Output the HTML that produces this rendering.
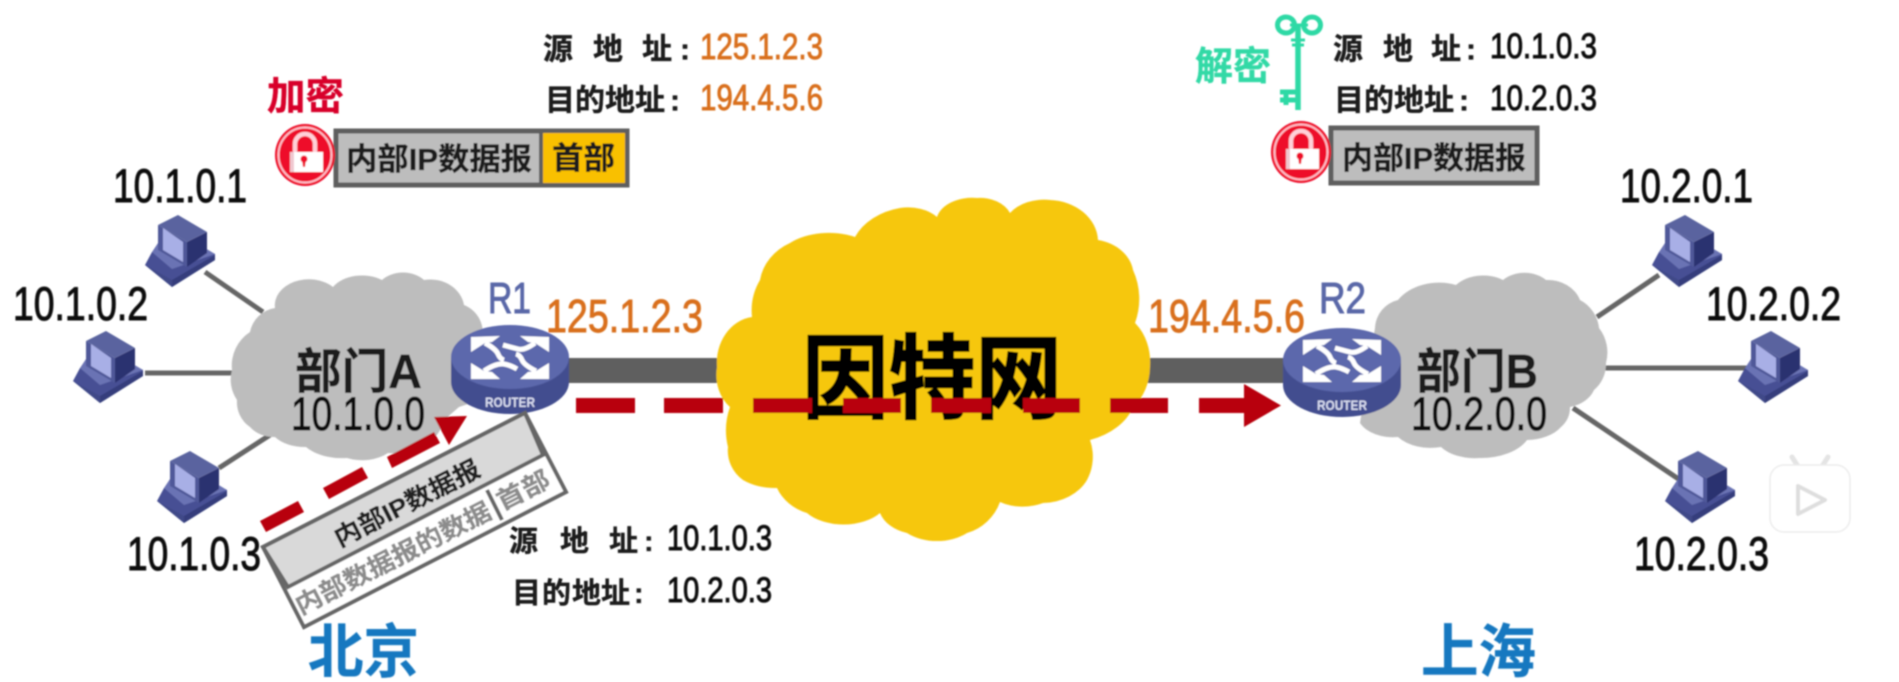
<!DOCTYPE html>
<html>
<head>
<meta charset="utf-8">
<style>
html,body{margin:0;padding:0;background:#fff;width:1899px;height:682px;overflow:hidden}
svg{display:block}
text{font-family:"Liberation Sans","Noto Sans CJK SC",sans-serif}
.n{fill:#111;stroke:#111;stroke-width:1}
.c{font-weight:700;fill:#1a1a1a;stroke:#1a1a1a;stroke-width:.35}
.o{fill:#d9701f;stroke:#d9701f;stroke-width:.9}
.r{fill:#5a68a8;stroke:#5a68a8;stroke-width:1}
</style>
</head>
<body>
<svg width="1899" height="682" viewBox="0 0 1899 682" xmlns="http://www.w3.org/2000/svg">
<defs>
<filter id="b" x="-2%" y="-2%" width="104%" height="104%"><feGaussianBlur stdDeviation="0.8"/></filter>
<g id="pc">
  <polygon points="0,48 27,70 70,43 70,37 60,33 7,35" fill="#474f94"/>
  <polygon points="7,35 27,52 70,37 60,31 43,38 13,26" fill="#6a73b4"/>
  <polygon points="0,48 27,63 27,70" fill="#3f4888"/>
  <polygon points="27,63 70,38 70,43 27,70" fill="#343c7c"/>
  <polygon points="13,8 33,-2 62,15 42,25" fill="#5a639f"/>
  <polygon points="13,8 42,25 42,50 13,33" fill="#4f5899"/>
  <polygon points="18,11 38,25 38,45 18,33" fill="#a8afe6"/>
  <polygon points="42,25 62,15 62,36 42,50" fill="#2c3270"/>
</g>
<g id="router">
  <path d="M-59,0 V25 A59,32 0 0 0 59,25 V0 Z" fill="#434e8f"/>
  <ellipse cx="0" cy="0" rx="59" ry="32" fill="#5b67ac"/>
  <g fill="#fff">
    <polygon points="-39,-20 -10,-21 -18,-15 -25,-14 -39,-5"/>
    <polygon points="39,-20 10,-21 18,-15 25,-14 39,-5"/>
    <polygon points="-39,22 -10,22 -18,15 -26,14 -39,6"/>
    <polygon points="39,22 10,22 18,15 26,14 39,6"/>
  </g>
  <g fill="none" stroke="#fff" stroke-width="5">
    <path d="M-25,-14 Q-14,-8 -12,-3 Q-10,2 -6,3"/>
    <path d="M25,-14 Q14,-6 8,-8 Q0,-10 -7,-12"/>
    <path d="M-26,14 Q-14,6 -6,7 Q0,8 7,12"/>
    <path d="M26,14 Q14,8 12,3 Q10,-2 6,-3"/>
  </g>
  <text x="-25" y="50" font-size="14" font-weight="700" fill="#d8dcf0" textLength="50" lengthAdjust="spacingAndGlyphs">ROUTER</text>
</g>
<g id="lock">
  <ellipse cx="0" cy="0" rx="30" ry="31" fill="#ee0a2a"/>
  <ellipse cx="0" cy="0" rx="26.500" ry="27.500" fill="none" stroke="#ffc0ca" stroke-width="2"/>
  <path d="M-10,-3 V-11 A10,10 0 0 1 10,-11 V-3" fill="none" stroke="#ffd0d8" stroke-width="4.500"/>
  <rect x="-15" y="-3" width="33" height="20" fill="#fff"/>
  <rect x="-15" y="-3" width="4" height="20" fill="#f0c8d0"/>
  <circle cx="-1" cy="4" r="3.500" fill="#ee0a2a"/>
  <polygon points="-3,5 1,5 0,12 -2,12" fill="#ee0a2a"/>
</g>
</defs>
<rect width="1899" height="682" fill="#fff"/>
<g filter="url(#b)">
  <!-- link lines -->
  <g stroke="#666" stroke-width="5" fill="none">
    <line x1="205" y1="272" x2="263" y2="312"/>
    <line x1="145" y1="373" x2="235" y2="373"/>
    <line x1="219" y1="468" x2="270" y2="435"/>
    <line x1="1659" y1="275" x2="1597" y2="317"/>
    <line x1="1600" y1="368" x2="1747" y2="368"/>
    <line x1="1573" y1="408" x2="1680" y2="480"/>
  </g>
  <rect x="560" y="358" width="180" height="25" fill="#5f5f5f"/>
  <rect x="1140" y="358" width="170" height="25" fill="#5f5f5f"/>

  <!-- gray clouds -->
  <path fill="#bdbdbd" d="M232 370 A40 40 0 0 1 250 332 A30 30 0 0 1 275 308 A34 26 0 0 1 333 287 A34 24 0 0 1 382 280 A28 22 0 0 1 424 280 A34 30 0 0 1 464 305 A30 30 0 0 1 482 340 L480 400 L459 407 L444 420 A50 40 0 0 1 388 453 A36 24 0 0 1 347 458 A44 26 0 0 1 306 447 A36 24 0 0 1 275 437 A30 26 0 0 1 250 427 A30 30 0 0 1 237 400 A36 36 0 0 1 232 370 Z"/>
  <path fill="#bdbdbd" d="M1375 328 A30 30 0 0 1 1398 300 A48 36 0 0 1 1456 285 A34 24 0 0 1 1503 280 A28 20 0 0 1 1546 280 A34 30 0 0 1 1580 300 A36 36 0 0 1 1599 328 A40 40 0 0 1 1606 363 A34 34 0 0 1 1594 390 A34 26 0 0 1 1570 407 A26 26 0 0 1 1561 427 A40 26 0 0 1 1527 440 A50 30 0 0 1 1480 458 A40 24 0 0 1 1441 447 A40 26 0 0 1 1398 437 A36 24 0 0 1 1360 423 Z"/>

  <!-- yellow cloud -->
  <path fill="#f6c70c" d="M717 367 A40 46 0 0 1 752 317 A60 60 0 0 1 760 280 A56 50 0 0 1 790 243 A56 36 0 0 1 855 237 A64 50 0 0 1 900 208 A36 24 0 0 1 937 217 A36 24 0 0 1 977 198 A32 24 0 0 1 1010 213 A40 28 0 0 1 1050 200 A50 42 0 0 1 1098 240 A44 36 0 0 1 1133 270 A70 70 0 0 1 1135 323 A40 50 0 0 1 1150 367 A40 50 0 0 1 1133 407 A70 50 0 0 1 1090 440 A50 50 0 0 1 1087 480 A50 40 0 0 1 1043 503 A40 26 0 0 1 1000 502 A50 50 0 0 1 967 533 A44 30 0 0 1 907 533 A40 30 0 0 1 880 513 A44 26 0 0 1 807 513 A50 44 0 0 1 777 488 A50 34 0 0 1 743 480 A36 36 0 0 1 728 447 A70 70 0 0 1 730 407 A34 40 0 0 1 717 367 Z"/>
  <text x="802" y="411" font-size="92" font-weight="700" style="fill:#000;stroke:#000;stroke-width:1.5" textLength="260" lengthAdjust="spacingAndGlyphs">因特网</text>

  <!-- routers -->
  <use href="#router" x="510" y="357"/>
  <use href="#router" x="1342" y="360"/>

  <!-- PCs -->
  <use href="#pc" x="145" y="217"/>
  <use href="#pc" x="73" y="333"/>
  <use href="#pc" x="157" y="453"/>
  <use href="#pc" x="1652" y="217"/>
  <use href="#pc" x="1738" y="333"/>
  <use href="#pc" x="1665" y="453"/>

  <!-- packet -->
  <polygon points="525,413 566,492 304,627 263,547" fill="#fff" stroke="#666" stroke-width="4"/>
  <polygon points="525,413 543,455 288,587 263,547" fill="#d9d9d9" stroke="#666" stroke-width="4"/>
  <line x1="487" y1="490" x2="502" y2="520" stroke="#666" stroke-width="4"/>
  <text class="c" transform="translate(407,503) rotate(-27)" y="9" font-size="25" text-anchor="middle" textLength="160" lengthAdjust="spacingAndGlyphs" style="fill:#222">内部IP数据报</text>
  <text class="c" transform="translate(393,558) rotate(-27)" y="9" font-size="25" text-anchor="middle" textLength="216" lengthAdjust="spacingAndGlyphs" style="fill:#8c8c8c;stroke:#8c8c8c">内部数据报的数据</text>
  <text class="c" transform="translate(523,490) rotate(-27)" y="9" font-size="25" text-anchor="middle" textLength="56" lengthAdjust="spacingAndGlyphs" style="fill:#8c8c8c;stroke:#8c8c8c">首部</text>

  <!-- red dashes horizontal -->
  <g fill="#b80008">
    <rect x="576" y="398" width="59" height="15"/>
    <rect x="664" y="398" width="59" height="15"/>
    <rect x="753" y="398" width="59" height="15"/>
    <rect x="843" y="398" width="58" height="15"/>
    <rect x="931" y="398" width="60" height="15"/>
    <rect x="1023" y="398" width="57" height="15"/>
    <rect x="1110" y="398" width="58" height="15"/>
    <rect x="1199" y="398" width="47" height="15"/>
    <polygon points="1244,384 1281,405.500 1244,427"/>
    <!-- diagonal -->
    <polygon points="387,457 392,468 440,443 434,432"/>
    <polygon points="434,417 467,416 449,445"/>
    <polygon points="323,488 329,499 368,478 362,467"/>
    <polygon points="260,521 266,532 304,512 298,501"/>
  </g>

  <!-- top left box -->
  <rect x="336" y="131" width="291" height="54" fill="#bdbdbd" stroke="#5f5f5f" stroke-width="5"/>
  <rect x="543" y="133" width="82" height="50" fill="#f9c000"/>
  <line x1="541" y1="131" x2="541" y2="185" stroke="#5f5f5f" stroke-width="4"/>
  <text class="c" x="346" y="170" font-size="31" textLength="186" lengthAdjust="spacingAndGlyphs">内部IP数据报</text>
  <text class="c" x="552" y="169" font-size="31" textLength="63" lengthAdjust="spacingAndGlyphs">首部</text>
  <use href="#lock" x="305" y="155"/>
  <text class="c" x="267" y="110" font-size="39" textLength="77" lengthAdjust="spacingAndGlyphs" style="fill:#d8002a;stroke:#d8002a">加密</text>

  <!-- top right box -->
  <rect x="1331" y="128" width="206" height="55" fill="#bdbdbd" stroke="#5f5f5f" stroke-width="5"/>
  <text class="c" x="1342" y="169" font-size="31" textLength="184" lengthAdjust="spacingAndGlyphs">内部IP数据报</text>
  <use href="#lock" x="1301" y="152"/>
  <text class="c" x="1195" y="80" font-size="39" textLength="76" lengthAdjust="spacingAndGlyphs" style="fill:#30d9a6;stroke:#30d9a6">解密</text>

  <!-- key -->
  <g stroke="#2ed9a5" fill="none" stroke-width="5">
    <ellipse cx="1286" cy="25" rx="8.500" ry="8"/>
    <ellipse cx="1312" cy="25" rx="8.500" ry="8"/>
    <line x1="1290" y1="25" x2="1308" y2="25" stroke-width="3"/>
    <line x1="1298" y1="25" x2="1298" y2="110" stroke-width="5.500"/>
    <line x1="1291" y1="40" x2="1305" y2="40" stroke-width="3"/>
    <line x1="1292" y1="45" x2="1304" y2="45" stroke-width="3"/>
    <line x1="1280" y1="92" x2="1298" y2="92" stroke-width="5"/>
    <line x1="1280" y1="100" x2="1298" y2="100" stroke-width="5"/>
    <line x1="1286" y1="90" x2="1286" y2="105" stroke-width="5"/>
  </g>

  <!-- address tables -->
  <text class="c" x="543 593 642 680" y="59.500" font-size="30">源地址:</text>
  <text class="c" x="545 575 605 635 670" y="110.500" font-size="30">目的地址:</text>
  <text class="c" x="1333 1383 1431 1466" y="59.500" font-size="30">源地址:</text>
  <text class="c" x="1334 1364 1394 1424 1459" y="110.500" font-size="30">目的地址:</text>
  <text class="c" x="509 560 609 644" y="551" font-size="29">源地址:</text>
  <text class="c" x="512 542 572 601 634" y="603" font-size="29">目的地址:</text>
  <text class="o" x="700" y="59" font-size="36" textLength="123" lengthAdjust="spacingAndGlyphs">125.1.2.3</text>
  <text class="o" x="700" y="110" font-size="36" textLength="123" lengthAdjust="spacingAndGlyphs">194.4.5.6</text>
  <text class="n" x="1490" y="58" font-size="35" textLength="107" lengthAdjust="spacingAndGlyphs">10.1.0.3</text>
  <text class="n" x="1490" y="110" font-size="35" textLength="107" lengthAdjust="spacingAndGlyphs">10.2.0.3</text>
  <text class="n" x="667" y="550" font-size="35" textLength="105" lengthAdjust="spacingAndGlyphs">10.1.0.3</text>
  <text class="n" x="667" y="602" font-size="35" textLength="105" lengthAdjust="spacingAndGlyphs">10.2.0.3</text>

  <!-- host labels -->
  <g font-size="47">
    <text class="n" x="113" y="202" textLength="134" lengthAdjust="spacingAndGlyphs">10.1.0.1</text>
    <text class="n" x="13" y="320" textLength="135" lengthAdjust="spacingAndGlyphs">10.1.0.2</text>
    <text class="n" x="127" y="570" textLength="134" lengthAdjust="spacingAndGlyphs">10.1.0.3</text>
    <text class="n" x="1620" y="202" textLength="133" lengthAdjust="spacingAndGlyphs">10.2.0.1</text>
    <text class="n" x="1706" y="320" textLength="135" lengthAdjust="spacingAndGlyphs">10.2.0.2</text>
    <text class="n" x="1634" y="570" textLength="135" lengthAdjust="spacingAndGlyphs">10.2.0.3</text>
    <text class="n" x="291" y="430" textLength="134" lengthAdjust="spacingAndGlyphs">10.1.0.0</text>
    <text class="n" x="1411" y="430" textLength="136" lengthAdjust="spacingAndGlyphs">10.2.0.0</text>
  </g>
  <text class="c" x="295" y="388" font-size="48" textLength="127" lengthAdjust="spacingAndGlyphs">部门A</text>
  <text class="c" x="1416" y="388" font-size="48" textLength="122" lengthAdjust="spacingAndGlyphs">部门B</text>

  <text class="o" x="546" y="332" font-size="46" textLength="157" lengthAdjust="spacingAndGlyphs">125.1.2.3</text>
  <text class="o" x="1148" y="332" font-size="46" textLength="157" lengthAdjust="spacingAndGlyphs">194.4.5.6</text>
  <text class="r" x="488" y="313" font-size="44" textLength="43" lengthAdjust="spacingAndGlyphs">R1</text>
  <text class="r" x="1319" y="313" font-size="44" textLength="47" lengthAdjust="spacingAndGlyphs">R2</text>

  <text class="c" x="308" y="672" font-size="58" textLength="111" lengthAdjust="spacingAndGlyphs" style="fill:#1378c0;stroke:#1378c0">北京</text>
  <text class="c" x="1421" y="672" font-size="58" textLength="115" lengthAdjust="spacingAndGlyphs" style="fill:#1378c0;stroke:#1378c0">上海</text>

  <!-- watermark badge -->
  <g stroke="#ececec" stroke-width="1.500">
    <line x1="1792" y1="457" x2="1799" y2="468" stroke="#e4e4e4" stroke-width="5" stroke-linecap="round"/>
    <line x1="1828" y1="457" x2="1821" y2="468" stroke="#e4e4e4" stroke-width="5" stroke-linecap="round"/>
    <rect x="1770" y="465" width="80" height="67" rx="14" fill="#fff"/>
    <polygon points="1798,486 1825,500 1798,514" fill="#fff" stroke="#dedede" stroke-width="4" stroke-linejoin="round"/>
  </g>
</g>
</svg>
</body>
</html>
